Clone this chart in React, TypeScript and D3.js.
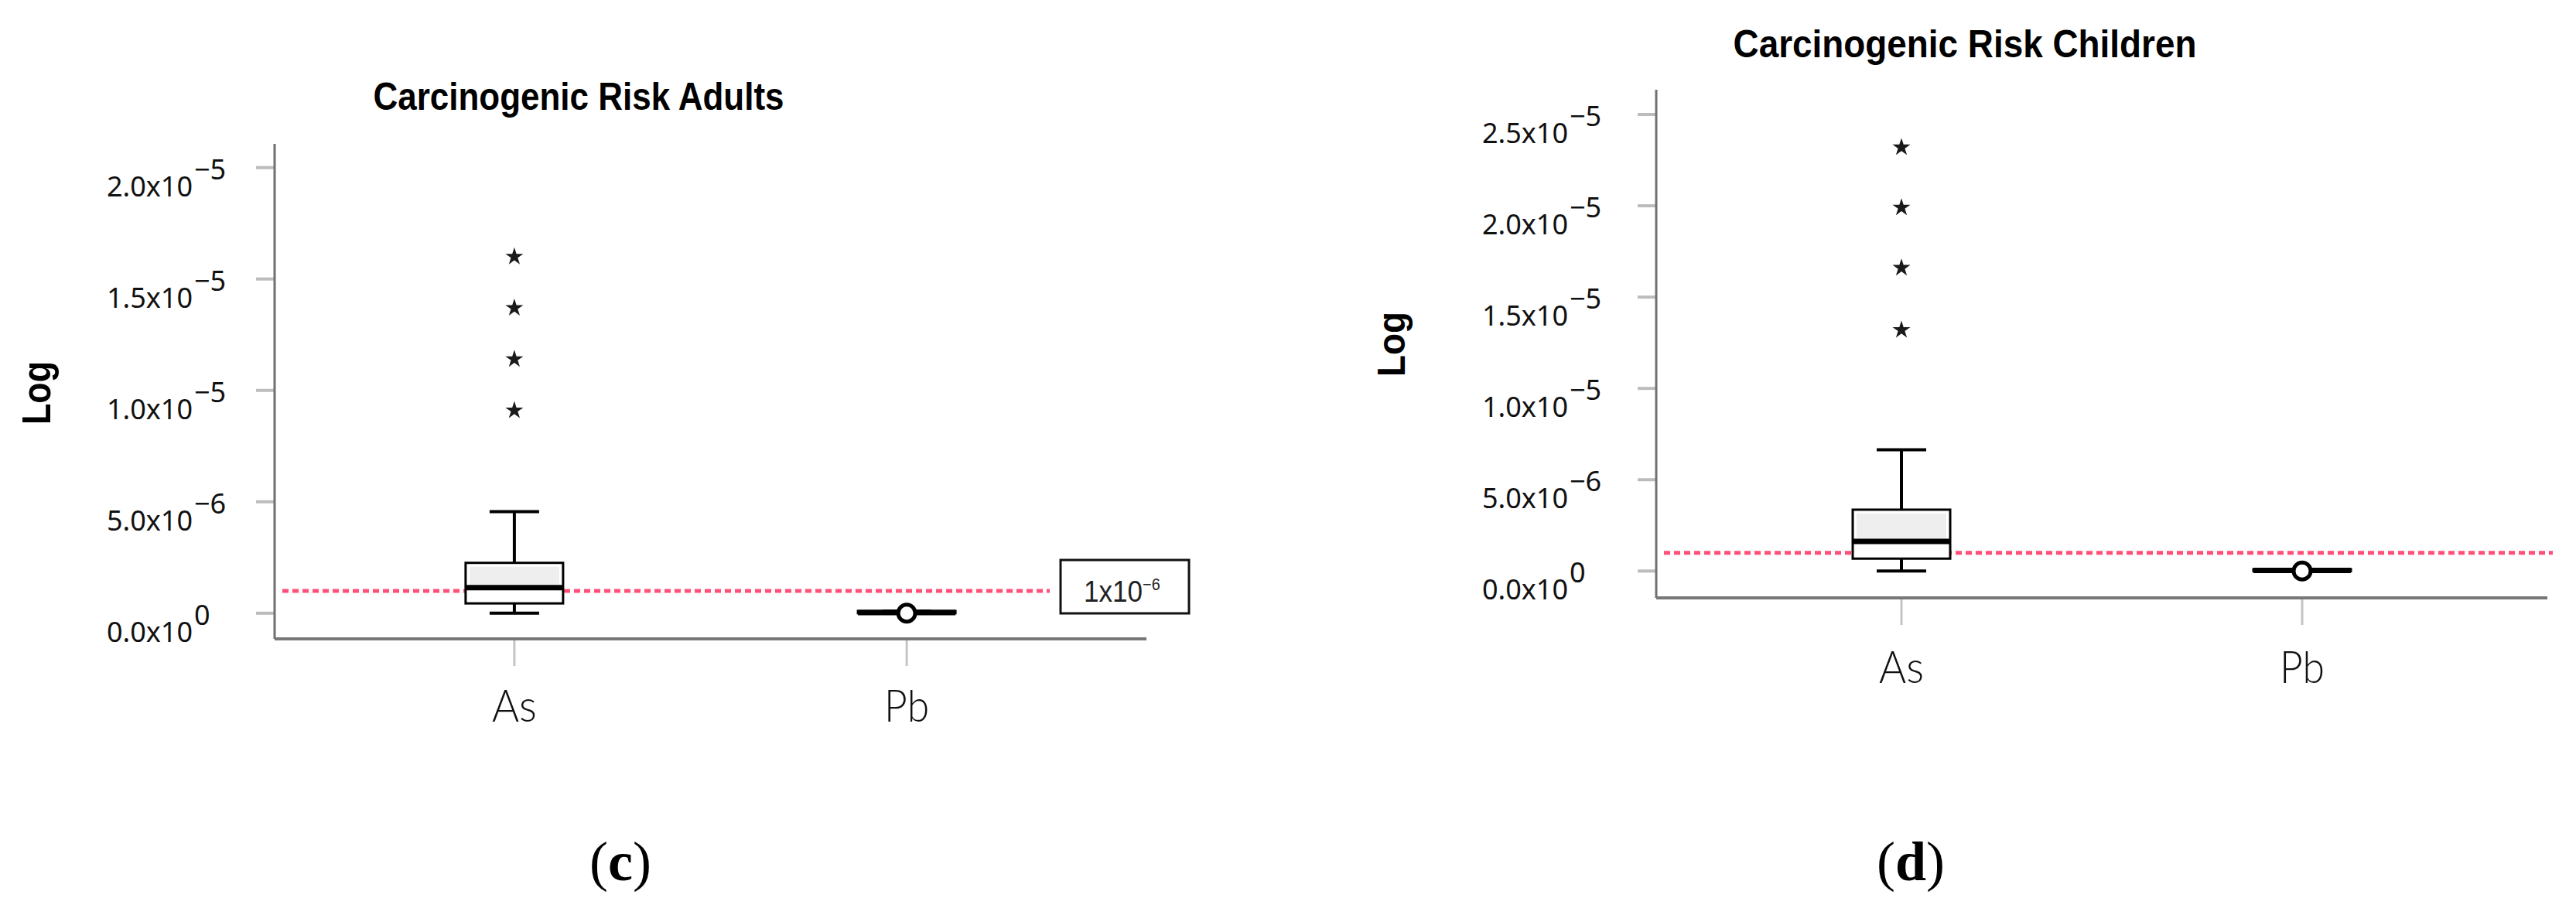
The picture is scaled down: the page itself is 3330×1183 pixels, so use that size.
import React from "react";
import * as d3 from "d3";

const categories = ["As", "Pb"];
// box stats: [lower whisker, Q1, median, Q3, upper whisker]
const adultsAs = [0, 0.44e-6, 1.15e-6, 2.26e-6, 4.56e-6];
const adultsPb = [0, 0, 0.03e-6, 0.1e-6, 0.1e-6];
const adultsExtremes = [1.6e-5, 1.37e-5, 1.14e-5, 0.91e-5];
const adultsPbOutliers = [0];
const childrenAs = [0, 0.68e-6, 1.62e-6, 3.36e-6, 6.64e-6];
const childrenPb = [0, 0, 0.03e-6, 0.1e-6, 0.1e-6];
const childrenExtremes = [2.32e-5, 1.99e-5, 1.66e-5, 1.32e-5];
const childrenPbOutliers = [0];
const adultsTicks = [0, 5e-6, 1e-5, 1.5e-5, 2e-5];
const childrenTicks = [0, 5e-6, 1e-5, 1.5e-5, 2e-5, 2.5e-5];
const tickMantissa = ["0.0", "5.0", "1.0", "1.5", "2.0", "2.5"];
const tickExponent = ["0", "\u22126", "\u22125", "\u22125", "\u22125", "\u22125"];
const riskThreshold = 1e-6;

const W = 3330;
const H = 1183;

const panels = [
  {
    key: "c",
    title: "Carcinogenic Risk Adults",
    titleX: 748, titleY: 142, titleLen: 531,
    yMax: 2e-5, yRange: [792.8, 216.7], axisTop: 186, xAxisY: 826,
    xRange: [355, 1482], pad: 0.611,
    ticks: adultsTicks,
    stats: [adultsAs, adultsPb], extremes: adultsExtremes, outliers: adultsPbOutliers,
    labelEnd: 249, logX: 65, logY: 508, logLen: 82, logSize: 52,
    catY: 933, dashEnd: 1357, letter: "c", letterX: 802,
    showLabel: true,
  },
  {
    key: "d",
    title: "Carcinogenic Risk Children",
    titleX: 2540, titleY: 74, titleLen: 599,
    yMax: 2.5e-5, yRange: [738.3, 148], axisTop: 116, xAxisY: 773,
    xRange: [2141, 3293], pad: 0.612,
    ticks: childrenTicks,
    stats: [childrenAs, childrenPb], extremes: childrenExtremes, outliers: childrenPbOutliers,
    labelEnd: 2027, logX: 1816, logY: 445, logLen: 84, logSize: 50,
    catY: 883, dashEnd: 3300, letter: "d", letterX: 2470,
    showLabel: false,
  },
];

const starPath = d3.symbol(d3.symbolStar, 165)();

function Panel({ p }: { p: any }) {
  const y = d3.scaleLinear().domain([0, p.yMax]).range(p.yRange);
  const x = d3.scalePoint<string>().domain(categories).range(p.xRange).padding(p.pad);
  const boxW = 126;
  const capW = 64;
  const tickFont = "'Noto Sans', 'Open Sans', sans-serif";

  return (
    <g>
      <text x={p.titleX} y={p.titleY} textAnchor="middle" fontFamily="'Liberation Sans', Arial, sans-serif"
        fontWeight="bold" fontSize={50} textLength={p.titleLen} lengthAdjust="spacingAndGlyphs">{p.title}</text>

      <text transform={`translate(${p.logX},${p.logY}) rotate(-90)`} textAnchor="middle"
        fontFamily="'Liberation Sans', Arial, sans-serif" fontWeight="bold" fontSize={p.logSize}
        textLength={p.logLen} lengthAdjust="spacingAndGlyphs">Log</text>

      {p.ticks.map((t: number, i: number) => (
        <g key={i}>
          <line x1={p.xRange[0] - 24} x2={p.xRange[0]} y1={y(t)} y2={y(t)} stroke="#bcbcbc" strokeWidth={4} />
          <text x={p.labelEnd} y={y(t) + 37} textAnchor="end" fontFamily={tickFont} fontSize={36} fill="#111">
            {tickMantissa[i]}x10
          </text>
          <text x={p.labelEnd + 2} y={y(t) + 15} fontFamily={tickFont} fontSize={36} fill="#111">
            {tickExponent[i]}
          </text>
        </g>
      ))}

      <line x1={p.xRange[0]} x2={p.xRange[0]} y1={p.axisTop} y2={p.xAxisY} stroke="#707070" strokeWidth={3} />
      <line x1={p.xRange[0]} x2={p.xRange[1]} y1={p.xAxisY} y2={p.xAxisY} stroke="#777" strokeWidth={4} />

      {categories.map((c) => (
        <g key={c}>
          <line x1={x(c)} x2={x(c)} y1={p.xAxisY + 2} y2={p.xAxisY + 35} stroke="#c4c4c4" strokeWidth={3} />
          <text x={x(c)} y={p.catY} textAnchor="middle" fontFamily="Lato, 'Open Sans', sans-serif" fontWeight={300}
            fontSize={57} fill="#111" textLength={58} lengthAdjust="spacingAndGlyphs">{c}</text>
        </g>
      ))}

      <line x1={p.xRange[0] + 10} x2={p.dashEnd} y1={y(riskThreshold)} y2={y(riskThreshold)}
        stroke="#ff5079" strokeWidth={5} strokeDasharray="8 5" />

      {categories.map((c, i) => {
        const [lo, q1, med, q3, hi] = p.stats[i];
        const cx = x(c) as number;
        return (
          <g key={c}>
            <line x1={cx} x2={cx} y1={y(hi)} y2={y(q3)} stroke="#000" strokeWidth={4} />
            <line x1={cx} x2={cx} y1={y(q1)} y2={y(lo)} stroke="#000" strokeWidth={4} />
            <line x1={cx - capW / 2} x2={cx + capW / 2} y1={y(hi)} y2={y(hi)} stroke="#000" strokeWidth={4} />
            <line x1={cx - capW / 2} x2={cx + capW / 2} y1={y(lo)} y2={y(lo)} stroke="#000" strokeWidth={4} />
            <rect x={cx - boxW / 2} y={y(q3)} width={boxW} height={y(q1) - y(q3)} fill="#fff" stroke="#000" strokeWidth={3} />
            <rect x={cx - boxW / 2 + 5} y={y(q3) + 5} width={boxW - 10} height={Math.max(0, y(med) - y(q3) - 8)} fill="#eeeeee" />
            <line x1={cx - boxW / 2} x2={cx + boxW / 2} y1={y(med)} y2={y(med)} stroke="#000" strokeWidth={7} />
          </g>
        );
      })}

      {p.extremes.map((v: number, i: number) => (
        <path key={i} d={starPath as string} transform={`translate(${x("As")},${y(v)})`} fill="#1a1a1a" />
      ))}
      {p.outliers.map((v: number, i: number) => (
        <circle key={i} cx={x("Pb")} cy={y(v)} r={11} fill="#fff" stroke="#000" strokeWidth={5} />
      ))}

      {p.showLabel && (
        <g>
          <rect x={1371} y={724} width={166} height={69} fill="#fff" stroke="#111" strokeWidth={3} />
          <text transform="translate(1401,778) scale(0.9,1)" fontFamily="'Liberation Sans', sans-serif"
            fontSize={39} fill="#222">
            1x10<tspan dy={-15} fontSize={22}>{"\u22126"}</tspan>
          </text>
        </g>
      )}

      <text x={p.letterX} y={1138} textAnchor="middle" fontFamily="'Liberation Serif', 'Times New Roman', serif" fontSize={72}>
        (<tspan fontWeight="bold">{p.letter}</tspan>)
      </text>
    </g>
  );
}

export default function App() {
  return (
    <svg width={W} height={H} viewBox={`0 0 ${W} ${H}`}
      style={{ position: "absolute", left: 0, top: 0, background: "#fff" }}>
      <rect width={W} height={H} fill="#fff" />
      {panels.map((p) => <Panel key={p.key} p={p} />)}
    </svg>
  );
}
